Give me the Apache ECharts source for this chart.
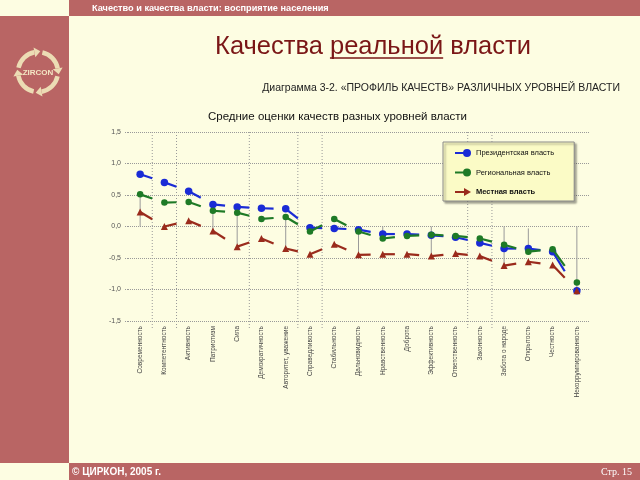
<!DOCTYPE html>
<html>
<head>
<meta charset="utf-8">
<script src="https://cdn.jsdelivr.net/npm/echarts@6/dist/echarts.min.js"></script>
<style>
html,body{margin:0;padding:0;background:#fdfde2;}
#c{width:640px;height:480px;}
</style>
</head>
<body>
<div id="c"></div>
<script>
var categories = ['Современность','Компетентность','Активность','Патриотизм','Сила','Демократичность','Авторитет, уважение','Справедливость','Стабильность','Дальновидность','Нравственность','Доброта','Эффективность','Ответственность','Законность','Забота о народе','Открытость','Честность','Некоррумпированность'];
var presidential = [0.83, 0.70, 0.56, 0.35, 0.31, 0.29, 0.28, -0.02, -0.03, -0.05, -0.12, -0.12, -0.14, -0.17, -0.26, -0.35, -0.35, -0.40, -1.02];
var regional = [0.51, 0.38, 0.39, 0.25, 0.22, 0.12, 0.15, -0.08, 0.12, -0.08, -0.19, -0.15, -0.13, -0.15, -0.19, -0.29, -0.40, -0.36, -0.89];
var local = [0.23, 0.00, 0.09, -0.07, -0.32, -0.19, -0.35, -0.44, -0.28, -0.45, -0.44, -0.44, -0.47, -0.43, -0.47, -0.62, -0.56, -0.61, -1.02];
var grayHigh = [0.50, null, null, 0.34, 0.29, null, 0.13, null, null, 0.0, 0.0, null, 0.0, null, null, 0.0, -0.03, null, 0.0];
var grayLow = [0.0, null, null, -0.06, -0.29, null, -0.35, null, null, -0.45, -0.18, null, -0.48, null, null, -0.64, -0.40, null, -1.02];
var separatorIdx = [1, 2, 5, 7, 8, 14, 15];
var seriesNames = ['Президентская власть', 'Региональная власть', 'Местная власть'];
var yTicks = [-1.5, 1.5];

var colors = ['#1a2bd6', '#1e7a26', '#9a2b1c'];
var values = [presidential, regional, local];
var symbols = ['circle', 'circle', 'triangle'];
var sizes = [7.5, 6.5, 7];

function segData(arr) {
  var d = [];
  for (var i = 0; i < arr.length - 1; i++) d.push([i, arr[i], arr[i + 1]]);
  return d;
}
function makeSeg(color) {
  return function (params, api) {
    var i = api.value(0);
    var p = api.coord([i, api.value(1)]);
    var q = api.coord([i + 1, api.value(2)]);
    return {type: 'line', shape: {x1: p[0], y1: p[1], x2: (p[0] + q[0]) / 2, y2: (p[1] + q[1]) / 2},
      style: {stroke: color, lineWidth: 2.2}};
  };
}
var grayData = [];
for (var g = 0; g < grayHigh.length; g++) {
  if (grayHigh[g] !== null) grayData.push([g, grayHigh[g], grayLow[g]]);
}

var series = [{
  type: 'custom', name: 'sep', silent: true, z: 0,
  renderItem: function (params, api) {
    var i = api.value(0);
    var p = api.coord([i - 1, yTicks[1]]);
    var q = api.coord([i, yTicks[0]]);
    var x = (p[0] + q[0]) / 2;
    return {type: 'line', shape: {x1: x, y1: p[1], x2: x, y2: q[1] + 8},
      style: {stroke: '#999', lineWidth: 1, lineDash: [1, 2]}};
  },
  encode: {x: 0},
  data: separatorIdx.map(function (i) { return [i]; })
}, {
  type: 'custom', name: 'gray', silent: true, z: 1,
  renderItem: function (params, api) {
    var p = api.coord([api.value(0), api.value(1)]);
    var q = api.coord([api.value(0), api.value(2)]);
    return {type: 'line', shape: {x1: p[0], y1: p[1], x2: q[0], y2: q[1]}, style: {stroke: '#9a9a9a', lineWidth: 1}};
  },
  encode: {x: 0, y: [1, 2]},
  data: grayData
}];
for (var s = 0; s < 3; s++) {
  series.push({
    type: 'custom', name: seriesNames[s], z: 2 + s * 2, silent: true,
    renderItem: makeSeg(colors[s]), encode: {x: 0, y: [1, 2]}, data: segData(values[s]),
    itemStyle: {color: colors[s]}
  });
  series.push({
    type: 'scatter', name: seriesNames[s], z: 3 + s * 2, symbol: symbols[s], symbolSize: sizes[s],
    itemStyle: {color: colors[s], opacity: 1}, data: values[s], silent: true
  });
}

var iconDot = 'path://M0,3L10,3L10,5L0,5Z M8,4A4,4 0 1 1 16,4A4,4 0 1 1 8,4Z';
var iconArrow = 'path://M0,3L10,3L10,5L0,5Z M9,0L16,4L9,8Z';
var col = '#b96564';

function ring(cx, cy, r) {
  var els = [];
  for (var k = 0; k < 4; k++) {
    var a0 = k * Math.PI / 2 + 0.22, a1 = (k + 1) * Math.PI / 2 - 0.18;
    els.push({type: 'arc', z: 102, shape: {cx: cx, cy: cy, r: r, startAngle: a0, endAngle: a1},
      style: {stroke: '#ecdcb4', lineWidth: 4.5, fill: null}});
    var ex = cx + r * Math.cos(a1), ey = cy + r * Math.sin(a1);
    var tx = -Math.sin(a1), ty = Math.cos(a1);
    var nx = Math.cos(a1), ny = Math.sin(a1);
    els.push({type: 'polygon', z: 102, shape: {points: [[ex + nx * 5, ey + ny * 5], [ex - nx * 5, ey - ny * 5], [ex + tx * 6, ey + ty * 6]]},
      style: {fill: '#ecdcb4'}});
  }
  els.push({type: 'text', z: 103, x: cx, y: cy + 1, style: {text: 'ZIRCON', fill: '#f3e6c4', font: 'bold 8px "Liberation Sans"',
    textAlign: 'center', textVerticalAlign: 'middle'}});
  return els;
}

// underline position for the word «реальной»
var titleFont = '25.5px "Liberation Sans"';
var t1 = 'Качества ', t2 = 'реальной', t3 = ' власти';
var mc = document.createElement('canvas').getContext('2d');
mc.font = titleFont;
var wAll = mc.measureText(t1 + t2 + t3).width, w1 = mc.measureText(t1).width, w2 = mc.measureText(t2).width;
var titleCx = 373;
var ux1 = titleCx - wAll / 2 + w1, ux2 = ux1 + w2;

var graphics = [
  {type: 'rect', shape: {x: 69, y: 0, width: 571, height: 16}, style: {fill: col}, z: 100},
  {type: 'rect', shape: {x: 0, y: 16, width: 69, height: 447}, style: {fill: col}, z: 100},
  {type: 'rect', shape: {x: 69, y: 463, width: 571, height: 17}, style: {fill: col}, z: 100},
  {type: 'text', x: 92, y: 8, z: 101, style: {text: 'Качество и качества власти: восприятие населения', fill: '#fff',
    font: 'bold 9.2px "Liberation Sans"', textVerticalAlign: 'middle'}},
  {type: 'text', x: titleCx, y: 47, z: 101, style: {text: t1 + t2 + t3, fill: '#7a1616',
    font: titleFont, textAlign: 'center', textVerticalAlign: 'middle'}},
  {type: 'line', z: 101, shape: {x1: ux1, y1: 58, x2: ux2, y2: 58}, style: {stroke: '#7a1616', lineWidth: 1.5}},
  {type: 'text', x: 620, y: 88, z: 101, style: {text: 'Диаграмма 3-2. «ПРОФИЛЬ КАЧЕСТВ» РАЗЛИЧНЫХ УРОВНЕЙ ВЛАСТИ', fill: '#222',
    font: '10.5px "Liberation Sans"', textAlign: 'right', textVerticalAlign: 'middle'}},
  {type: 'text', x: 337.5, y: 117, z: 101, style: {text: 'Средние оценки качеств разных уровней власти', fill: '#111',
    font: '11.5px "Liberation Sans"', textAlign: 'center', textVerticalAlign: 'middle'}},
  {type: 'text', x: 72, y: 472, z: 101, style: {text: '© ЦИРКОН, 2005 г.', fill: '#fff',
    font: 'bold 10px "Liberation Sans"', textVerticalAlign: 'middle'}},
  {type: 'text', x: 632, y: 472, z: 101, style: {text: 'Стр. 15', fill: '#fff',
    font: '10px "Liberation Serif"', textAlign: 'right', textVerticalAlign: 'middle'}}
].concat(ring(38, 72, 20));

var chart = echarts.init(document.getElementById('c'));
chart.setOption({
  animation: false,
  backgroundColor: '#fdfde2',
  grid: {left: 128, right: 51, top: 132, bottom: 159},
  legend: {
    left: 443, top: 142, orient: 'vertical', itemWidth: 16, itemHeight: 8, itemGap: 11.5,
    padding: [7, 20, 5, 12], backgroundColor: '#fbfbc6', borderColor: '#8a8a8a', borderWidth: 1,
    shadowColor: 'rgba(0,0,0,0.35)', shadowOffsetX: 2, shadowOffsetY: 2, shadowBlur: 2,
    textStyle: {fontFamily: 'Liberation Sans', fontSize: 7.5, color: '#111'},
    selectedMode: false,
    data: [
      {name: seriesNames[0], icon: iconDot},
      {name: seriesNames[1], icon: iconDot},
      {name: seriesNames[2], icon: iconArrow, textStyle: {fontWeight: 'bold'}}
    ]
  },
  xAxis: {
    type: 'category', data: categories, boundaryGap: true,
    axisLine: {show: false},
    axisTick: {show: false},
    splitLine: {show: false},
    axisLabel: {rotate: 90, interval: 0, fontSize: 6.5, color: '#444', margin: 5, fontFamily: 'Liberation Sans'}
  },
  yAxis: {
    type: 'value', min: yTicks[0], max: yTicks[1], interval: 0.5,
    axisLine: {show: false},
    axisTick: {show: true, length: 3, lineStyle: {color: '#999', type: 'dotted'}},
    splitLine: {show: true, lineStyle: {color: '#999', type: 'dotted', width: 1}},
    axisLabel: {fontSize: 7, color: '#555', margin: 7, fontFamily: 'Liberation Sans',
      formatter: function (v) { return v.toFixed(1).replace('.', ','); }}
  },
  series: series,
  graphic: graphics
});
</script>
</body>
</html>
